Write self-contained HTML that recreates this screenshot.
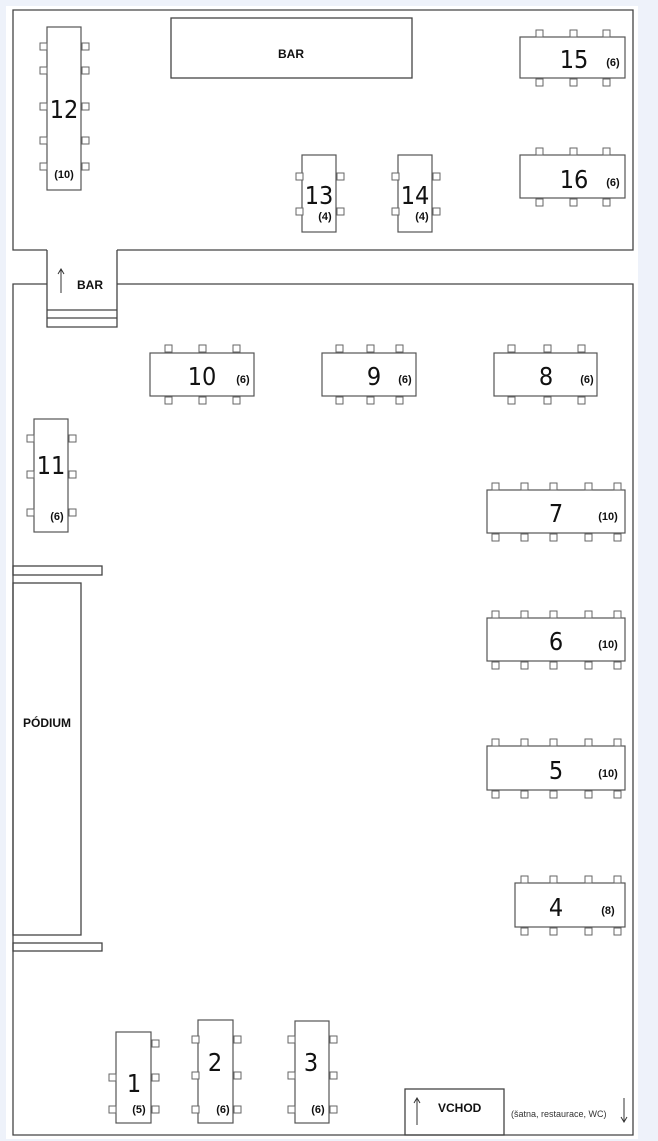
<!DOCTYPE html>
<html><head><meta charset="utf-8"><style>
html,body{margin:0;padding:0;background:#eef2fa;}
svg{display:block}
text{font-family:"Liberation Sans",sans-serif;fill:#111}
.n{font-family:"Liberation Sans Narrow","DejaVu Sans Condensed","Liberation Sans",sans-serif;font-size:25px}
.c{font-size:11px;font-weight:bold}
.l{font-size:12px;font-weight:bold}
</style></head><body>
<svg width="658" height="1141" viewBox="0 0 658 1141" xmlns="http://www.w3.org/2000/svg">
<defs><rect id="ch" width="7" height="7" fill="#fff" stroke="#666" stroke-width="1"/></defs>
<rect x="6" y="6" width="632" height="1133" fill="#fff"/>
<g fill="none" stroke="#444" stroke-width="1.3">
<!-- top room -->
<path d="M47,250 L13,250 L13,10 L633,10 L633,250 L117,250"/>
<!-- lower room -->
<path d="M47,284 L13,284 L13,1135 L633,1135 L633,284 L117,284"/>
<path d="M47,250 L47,327 L117,327 L117,250"/>
<path d="M47,310 H117 M47,318 H117"/>
<rect x="171" y="18" width="241" height="60"/>
<rect x="13" y="566" width="89" height="9"/>
<rect x="13" y="583" width="68" height="352"/>
<rect x="13" y="943" width="89" height="8"/>
<rect x="405" y="1089" width="99" height="46"/>
</g>
<g fill="#fff" stroke="#555" stroke-width="1.2">
<rect x="47" y="27" width="34" height="163"/>
<rect x="520" y="37" width="105" height="41"/>
<rect x="520" y="155" width="105" height="43"/>
<rect x="302" y="155" width="34" height="77"/>
<rect x="398" y="155" width="34" height="77"/>
<rect x="150" y="353" width="104" height="43"/>
<rect x="322" y="353" width="94" height="43"/>
<rect x="494" y="353" width="103" height="43"/>
<rect x="34" y="419" width="34" height="113"/>
<rect x="487" y="490" width="138" height="43"/>
<rect x="487" y="618" width="138" height="43"/>
<rect x="487" y="746" width="138" height="44"/>
<rect x="515" y="883" width="110" height="44"/>
<rect x="116" y="1032" width="35" height="91"/>
<rect x="198" y="1020" width="35" height="103"/>
<rect x="295" y="1021" width="34" height="102"/>
</g>
<!-- chairs -->
<g>
<!-- 12 -->
<use href="#ch" x="40" y="43"/><use href="#ch" x="40" y="67"/><use href="#ch" x="40" y="103"/><use href="#ch" x="40" y="137"/><use href="#ch" x="40" y="163"/>
<use href="#ch" x="82" y="43"/><use href="#ch" x="82" y="67"/><use href="#ch" x="82" y="103"/><use href="#ch" x="82" y="137"/><use href="#ch" x="82" y="163"/>
<!-- 15 -->
<use href="#ch" x="536" y="30"/><use href="#ch" x="570" y="30"/><use href="#ch" x="603" y="30"/>
<use href="#ch" x="536" y="79"/><use href="#ch" x="570" y="79"/><use href="#ch" x="603" y="79"/>
<!-- 16 -->
<use href="#ch" x="536" y="148"/><use href="#ch" x="570" y="148"/><use href="#ch" x="603" y="148"/>
<use href="#ch" x="536" y="199"/><use href="#ch" x="570" y="199"/><use href="#ch" x="603" y="199"/>
<!-- 13,14 -->
<use href="#ch" x="296" y="173"/><use href="#ch" x="296" y="208"/><use href="#ch" x="337" y="173"/><use href="#ch" x="337" y="208"/>
<use href="#ch" x="392" y="173"/><use href="#ch" x="392" y="208"/><use href="#ch" x="433" y="173"/><use href="#ch" x="433" y="208"/>
<!-- 10 -->
<use href="#ch" x="165" y="345"/><use href="#ch" x="199" y="345"/><use href="#ch" x="233" y="345"/>
<use href="#ch" x="165" y="397"/><use href="#ch" x="199" y="397"/><use href="#ch" x="233" y="397"/>
<!-- 9 -->
<use href="#ch" x="336" y="345"/><use href="#ch" x="367" y="345"/><use href="#ch" x="396" y="345"/>
<use href="#ch" x="336" y="397"/><use href="#ch" x="367" y="397"/><use href="#ch" x="396" y="397"/>
<!-- 8 -->
<use href="#ch" x="508" y="345"/><use href="#ch" x="544" y="345"/><use href="#ch" x="578" y="345"/>
<use href="#ch" x="508" y="397"/><use href="#ch" x="544" y="397"/><use href="#ch" x="578" y="397"/>
<!-- 11 -->
<use href="#ch" x="27" y="435"/><use href="#ch" x="27" y="471"/><use href="#ch" x="27" y="509"/>
<use href="#ch" x="69" y="435"/><use href="#ch" x="69" y="471"/><use href="#ch" x="69" y="509"/>
<!-- 7 -->
<use href="#ch" x="492" y="483"/><use href="#ch" x="521" y="483"/><use href="#ch" x="550" y="483"/><use href="#ch" x="585" y="483"/><use href="#ch" x="614" y="483"/>
<use href="#ch" x="492" y="534"/><use href="#ch" x="521" y="534"/><use href="#ch" x="550" y="534"/><use href="#ch" x="585" y="534"/><use href="#ch" x="614" y="534"/>
<!-- 6 -->
<use href="#ch" x="492" y="611"/><use href="#ch" x="521" y="611"/><use href="#ch" x="550" y="611"/><use href="#ch" x="585" y="611"/><use href="#ch" x="614" y="611"/>
<use href="#ch" x="492" y="662"/><use href="#ch" x="521" y="662"/><use href="#ch" x="550" y="662"/><use href="#ch" x="585" y="662"/><use href="#ch" x="614" y="662"/>
<!-- 5 -->
<use href="#ch" x="492" y="739"/><use href="#ch" x="521" y="739"/><use href="#ch" x="550" y="739"/><use href="#ch" x="585" y="739"/><use href="#ch" x="614" y="739"/>
<use href="#ch" x="492" y="791"/><use href="#ch" x="521" y="791"/><use href="#ch" x="550" y="791"/><use href="#ch" x="585" y="791"/><use href="#ch" x="614" y="791"/>
<!-- 4 -->
<use href="#ch" x="521" y="876"/><use href="#ch" x="550" y="876"/><use href="#ch" x="585" y="876"/><use href="#ch" x="614" y="876"/>
<use href="#ch" x="521" y="928"/><use href="#ch" x="550" y="928"/><use href="#ch" x="585" y="928"/><use href="#ch" x="614" y="928"/>
<!-- 1 -->
<use href="#ch" x="152" y="1040"/><use href="#ch" x="109" y="1074"/><use href="#ch" x="152" y="1074"/><use href="#ch" x="109" y="1106"/><use href="#ch" x="152" y="1106"/>
<!-- 2 -->
<use href="#ch" x="192" y="1036"/><use href="#ch" x="234" y="1036"/><use href="#ch" x="192" y="1072"/><use href="#ch" x="234" y="1072"/><use href="#ch" x="192" y="1106"/><use href="#ch" x="234" y="1106"/>
<!-- 3 -->
<use href="#ch" x="288" y="1036"/><use href="#ch" x="330" y="1036"/><use href="#ch" x="288" y="1072"/><use href="#ch" x="330" y="1072"/><use href="#ch" x="288" y="1106"/><use href="#ch" x="330" y="1106"/>
</g>
<!-- labels -->
<text class="l" x="291" y="58" text-anchor="middle">BAR</text>
<text class="l" x="77" y="289">BAR</text>
<text class="l" x="47" y="727" text-anchor="middle">PÓDIUM</text>
<text class="l" x="438" y="1112">VCHOD</text>
<text x="511" y="1117" style="font-size:9px;fill:#333">(šatna, restaurace, WC)</text>
<g stroke="#333" stroke-width="1" fill="none">
<path d="M61,293 V270 M58,274 L61,269 L64,274"/>
<path d="M417,1125 V1099 M414,1103 L417,1098 L420,1103"/>
<path d="M624,1098 V1122 M621,1117 L624,1122 L627,1117"/>
</g>
<text class="n" x="64" y="118" text-anchor="middle">12</text>
<text class="c" x="64" y="178" text-anchor="middle">(10)</text>
<text class="n" x="574" y="68" text-anchor="middle">15</text><text class="c" x="613" y="66" text-anchor="middle">(6)</text>
<text class="n" x="574" y="188" text-anchor="middle">16</text><text class="c" x="613" y="186" text-anchor="middle">(6)</text>
<text class="n" x="319" y="204" text-anchor="middle">13</text><text class="c" x="325" y="220" text-anchor="middle">(4)</text>
<text class="n" x="415" y="204" text-anchor="middle">14</text><text class="c" x="422" y="220" text-anchor="middle">(4)</text>
<text class="n" x="202" y="385" text-anchor="middle">10</text><text class="c" x="243" y="383" text-anchor="middle">(6)</text>
<text class="n" x="374" y="385" text-anchor="middle">9</text><text class="c" x="405" y="383" text-anchor="middle">(6)</text>
<text class="n" x="546" y="385" text-anchor="middle">8</text><text class="c" x="587" y="383" text-anchor="middle">(6)</text>
<text class="n" x="51" y="474" text-anchor="middle">11</text><text class="c" x="57" y="520" text-anchor="middle">(6)</text>
<text class="n" x="556" y="522" text-anchor="middle">7</text><text class="c" x="608" y="520" text-anchor="middle">(10)</text>
<text class="n" x="556" y="650" text-anchor="middle">6</text><text class="c" x="608" y="648" text-anchor="middle">(10)</text>
<text class="n" x="556" y="779" text-anchor="middle">5</text><text class="c" x="608" y="777" text-anchor="middle">(10)</text>
<text class="n" x="556" y="916" text-anchor="middle">4</text><text class="c" x="608" y="914" text-anchor="middle">(8)</text>
<text class="n" x="134" y="1092" text-anchor="middle">1</text><text class="c" x="139" y="1113" text-anchor="middle">(5)</text>
<text class="n" x="215" y="1071" text-anchor="middle">2</text><text class="c" x="223" y="1113" text-anchor="middle">(6)</text>
<text class="n" x="311" y="1071" text-anchor="middle">3</text><text class="c" x="318" y="1113" text-anchor="middle">(6)</text>
</svg>
</body></html>
